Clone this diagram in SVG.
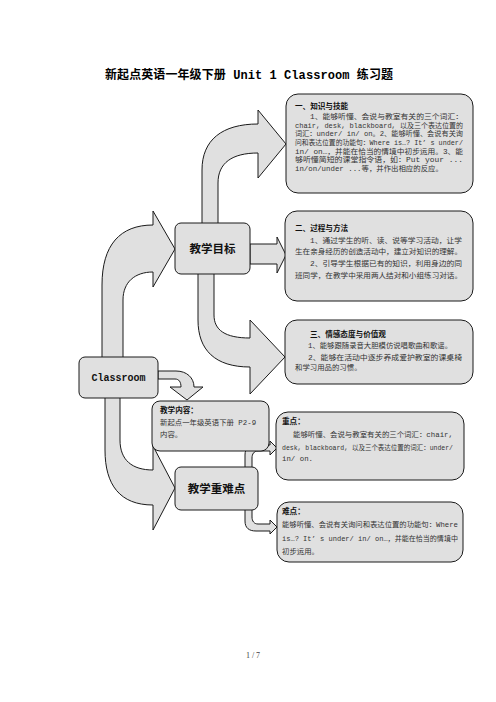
<svg xmlns="http://www.w3.org/2000/svg" width="496" height="702" viewBox="0 0 496 702">
<style>
.shape{fill:#e0e0e0;stroke:#1a1a1a;stroke-width:1;stroke-linejoin:round}
.box{fill:#e0e0e0;stroke:#1a1a1a;stroke-width:1}
.t{font-family:"Liberation Mono","Noto Sans CJK SC",monospace;font-size:7.4px;fill:#333}
.h{font-family:"Noto Sans CJK SC",sans-serif;font-size:7.6px;font-weight:bold;fill:#111}
.lbl{font-family:"Noto Sans CJK SC",sans-serif;font-size:11.5px;font-weight:bold;fill:#111;text-anchor:middle}
</style>
<rect width="496" height="702" fill="#fff"/>
<text x="105" y="79" textLength="288" lengthAdjust="spacing" style="font-family:'Liberation Mono','Noto Sans CJK SC',monospace;font-size:12px;font-weight:bold;fill:#000">新起点英语一年级下册 Unit 1 Classroom 练习题</text>

<g id="connectors">
<path class="shape" d="M102 358 L102 285 C102 245 120 225 153 225 L153 211 L175 249 L153 287 L153 272 C135 272 123 282 123 300 L123 358 Z"/>
<path class="shape" d="M202 224 L202 170 C202 140 222 124 258 124 L258 110 L286 144 L258 178 L258 153 C232 153 218 163 218 183 L218 224 Z"/>
<path class="shape" d="M250 244 L277 244 L277 237 L286 255 L277 273 L277 264 L250 264 Z"/>
<path class="shape" d="M198 273 L198 320 C198 350 215 367 250 367 L250 394 L285 357 L250 320 L250 338 C225 338 214 330 214 315 L214 273 Z"/>
<path class="shape" d="M105 397 L105 450 C105 485 120 505 153 505 L153 530 L175 488 L153 446 L153 470 C132 470 120 460 120 440 L120 397 Z"/>
<path class="shape" d="M158 371 L176 371 C187 371 194 378 194 387 L203 387 L187 400 L170 387 L181 387 C181 382 179 379 175 379 L158 379 Z"/>
<path class="shape" d="M245 468 L245 455 C245 448 249 445 256 445 L270 445 L270 441 L277 448 L270 455 L270 451 L258 451 C254 451 252 454 252 458 L252 468 Z"/>
<path class="shape" d="M245 509 L245 521 C245 528 249 531 256 531 L270 531 L270 534 L277 527 L270 520 L270 524 L258 524 C254 524 252 521 252 517 L252 509 Z"/>
</g>

<g id="classroom">
<rect class="box" x="79" y="357" width="79" height="41" rx="6"/>
<text x="118.5" y="380.5" text-anchor="middle" style="font-family:'Liberation Mono',monospace;font-size:10px;font-weight:bold;fill:#111">Classroom</text>
</g>

<g id="goals">
<rect class="box" x="175" y="223" width="75" height="51" rx="6"/>
<text class="lbl" x="212.5" y="252.5">教学目标</text>
</g>

<g id="keypoints">
<rect class="box" x="175" y="467" width="83" height="43" rx="6"/>
<text class="lbl" x="216.5" y="492.5">教学重难点</text>
</g>

<g id="box1">
<rect class="box" x="286" y="94" width="187" height="99" rx="12"/>
<text class="h" x="295" y="109">一、知识与技能</text>
<text class="t" x="310" y="119" textLength="153" lengthAdjust="spacingAndGlyphs">1、能够听懂、会说与教室有关的三个词汇：</text>
<text class="t" x="295" y="127.5" textLength="168" lengthAdjust="spacingAndGlyphs">chair, desk, blackboard, 以及三个表达位置的</text>
<text class="t" x="295" y="136" textLength="168" lengthAdjust="spacingAndGlyphs">词汇：under/ in/ on。2、能够听懂、会说有关询</text>
<text class="t" x="295" y="145" textLength="168" lengthAdjust="spacingAndGlyphs">问和表达位置的功能句：Where is…? It’ s under/</text>
<text class="t" x="295" y="154" textLength="168" lengthAdjust="spacingAndGlyphs">in/ on…，并能在恰当的情境中初步运用。3、能</text>
<text class="t" x="295" y="162" textLength="168" lengthAdjust="spacingAndGlyphs">够听懂简短的课堂指令语，如：Put your ...</text>
<text class="t" x="295" y="170.5">in/on/under ...等，并作出相应的反应。</text>
</g>

<g id="box2">
<rect class="box" x="285" y="211" width="188" height="90" rx="12"/>
<text class="h" x="295" y="231">二、过程与方法</text>
<text class="t" x="310" y="242.5" textLength="152" lengthAdjust="spacingAndGlyphs">1、通过学生的听、读、说等学习活动，让学</text>
<text class="t" x="295" y="253.5" textLength="167" lengthAdjust="spacingAndGlyphs">生在亲身经历的创造活动中，建立对知识的理解。</text>
<text class="t" x="310" y="265.5" textLength="152" lengthAdjust="spacingAndGlyphs">2、引导学生根据已有的知识，利用身边的同</text>
<text class="t" x="295" y="277.5" textLength="167" lengthAdjust="spacingAndGlyphs">班同学，在教学中采用两人结对和小组练习对话。</text>
</g>

<g id="box3">
<rect class="box" x="285" y="320" width="188" height="64" rx="12"/>
<text class="h" x="310" y="337">三、情感态度与价值观</text>
<text class="t" x="308" y="347.5" textLength="144" lengthAdjust="spacingAndGlyphs">1、能够跟随录音大胆模仿说唱歌曲和歌谣。</text>
<text class="t" x="308" y="359.5" textLength="154" lengthAdjust="spacingAndGlyphs">2、能够在活动中逐步养成爱护教室的课桌椅</text>
<text class="t" x="295" y="369.5">和学习用品的习惯。</text>
</g>

<g id="content">
<rect class="box" x="152" y="401" width="117" height="50" rx="8"/>
<text class="h" x="160" y="413">教学内容：</text>
<text class="t" x="160" y="425">新起点一年级英语下册 P2-9</text>
<text class="t" x="160" y="437">内容。</text>
</g>

<g id="focus">
<rect class="box" x="276" y="412" width="188" height="68" rx="12"/>
<text class="h" x="282" y="424">重点：</text>
<text class="t" x="293" y="437" textLength="160" lengthAdjust="spacingAndGlyphs">能够听懂、会说与教室有关的三个词汇：chair,</text>
<text class="t" x="282" y="449.5" textLength="171" lengthAdjust="spacingAndGlyphs">desk, blackboard, 以及三个表达位置的词汇：under/</text>
<text class="t" x="282" y="461">in/ on.</text>
</g>

<g id="difficulty">
<rect class="box" x="277" y="502" width="186" height="60" rx="12"/>
<text class="h" x="282" y="514">难点：</text>
<text class="t" x="282" y="527" textLength="176" lengthAdjust="spacingAndGlyphs">能够听懂、会说有关询问和表达位置的功能句：Where</text>
<text class="t" x="282" y="541" textLength="176" lengthAdjust="spacingAndGlyphs">is…? It’ s under/ in/ on…，并能在恰当的情境中</text>
<text class="t" x="282" y="554">初步运用。</text>
</g>

<text x="253" y="658" text-anchor="middle" style="font-family:'Liberation Serif',serif;font-size:8px;fill:#444">1 / 7</text>
</svg>
